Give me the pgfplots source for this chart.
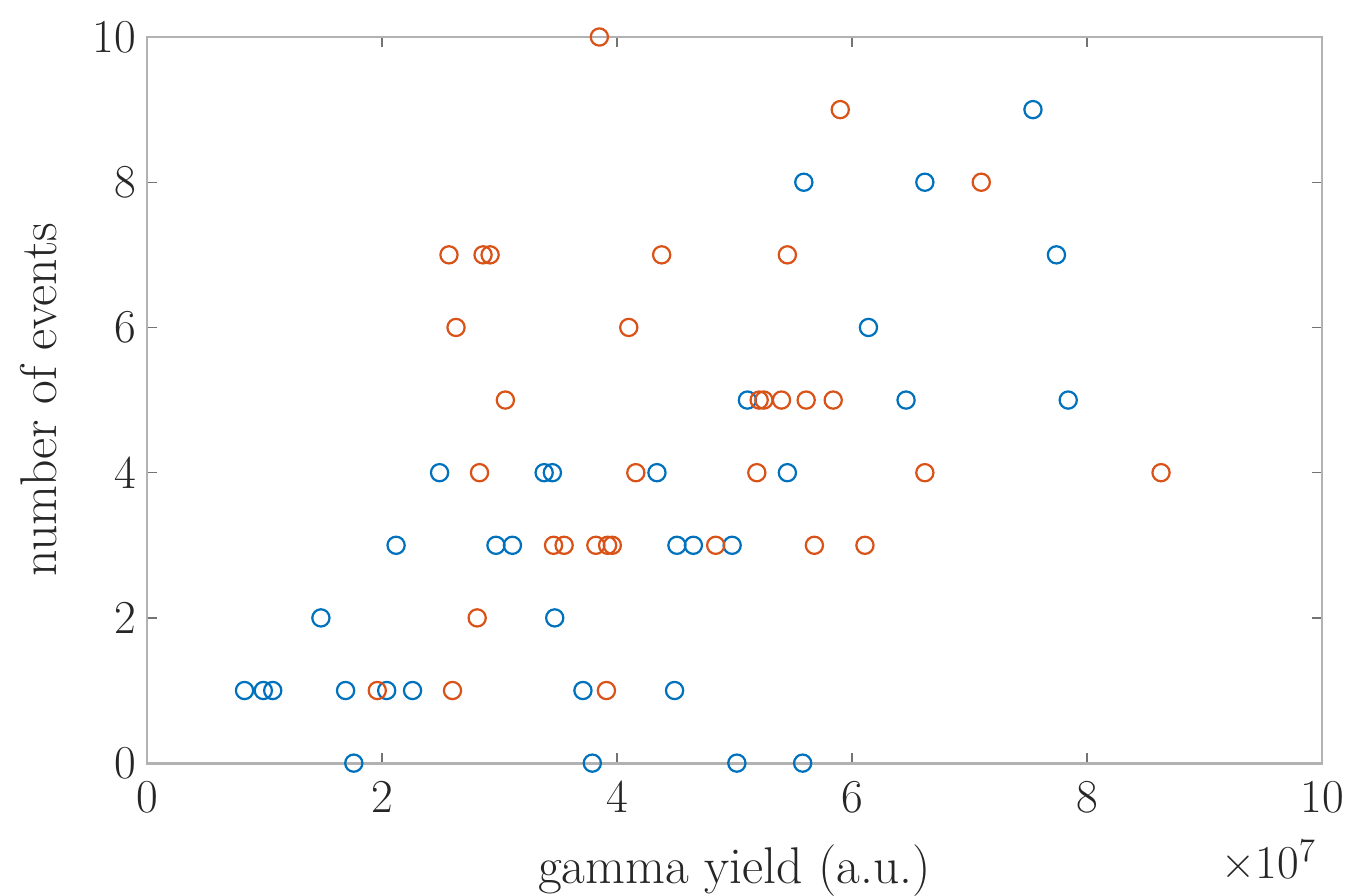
\documentclass[border=0pt]{standalone}
\usepackage{pgfplots}
\pgfplotsset{compat=1.18}
\definecolor{mblue}{rgb}{0,0.447,0.741}
\definecolor{morange}{rgb}{0.85,0.325,0.098}
\definecolor{axgray}{gray}{0.7}
\definecolor{txt}{gray}{0.15}
\begin{document}
\begin{tikzpicture}
\begin{axis}[
  scale only axis, width=423pt, height=261.4pt,
  xmin=0, xmax=10, ymin=0, ymax=10,
  xtick={0,2,4,6,8,10}, ytick={0,2,4,6,8,10},
  /pgf/number format/assume math mode=true,
  tick align=inside, major tick length=3.6pt,
  axis line style={axgray, line width=1pt},
  tick style={black!55, line width=0.5pt},
  clip=false,
  every tick label/.append style={font=\fontsize{17}{20}\selectfont, text=txt},
  xticklabel style={yshift=-3pt},
  yticklabel style={xshift=-0.5pt},
  xlabel={gamma yield (a.u.)}, ylabel={number of events},
  label style={font=\fontsize{18.6}{22}\selectfont, text=txt},
  xlabel style={at={(axis description cs:0.5,0)}, anchor=base, yshift=-43.5pt},
  ylabel style={at={(axis description cs:0,0.5)}, anchor=base, yshift=32.4pt},
]
\addplot[only marks, mark=o, mark size=3.1pt, mblue, mark options={line width=0.8pt}] coordinates {
(1.76,0) (3.79,0) (5.02,0) (5.58,0)
(0.83,1) (0.99,1) (1.07,1) (1.69,1) (2.04,1) (2.26,1) (3.71,1) (4.49,1)
(1.48,2) (3.47,2)
(2.12,3) (2.97,3) (3.11,3) (4.51,3) (4.65,3) (4.98,3)
(2.49,4) (3.38,4) (3.45,4) (4.34,4) (5.45,4)
(5.11,5) (6.46,5) (7.84,5)
(6.14,6)
(7.74,7)
(5.59,8) (6.62,8)
(7.54,9)
};
\addplot[only marks, mark=o, mark size=3.1pt, morange, mark options={line width=0.8pt}] coordinates {
(1.96,1) (2.60,1) (3.91,1)
(2.81,2)
(3.46,3) (3.55,3) (3.82,3) (3.92,3) (3.96,3) (4.84,3) (5.68,3) (6.11,3)
(2.83,4) (4.16,4) (5.19,4) (6.62,4) (8.63,4)
(3.05,5) (5.21,5) (5.25,5) (5.40,5) (5.61,5) (5.84,5)
(2.63,6) (4.10,6)
(2.57,7) (2.86,7) (2.92,7) (4.38,7) (5.45,7)
(7.10,8)
(5.90,9)
(3.85,10)
};
\coordinate (ll) at (rel axis cs:0,0);
\coordinate (ur) at (rel axis cs:1,1);
\end{axis}
\node[anchor=north east, font=\fontsize{17}{20}\selectfont, text=txt, inner sep=0pt] at ([xshift=-1.8pt,yshift=-27pt]ll -| ur) {×10\textsuperscript{7}};
\pgfresetboundingbox
\path ([xshift=-52.92pt,yshift=-47.52pt]ll) rectangle ([xshift=10.08pt,yshift=13.32pt]ur);
\end{tikzpicture}
\end{document}
